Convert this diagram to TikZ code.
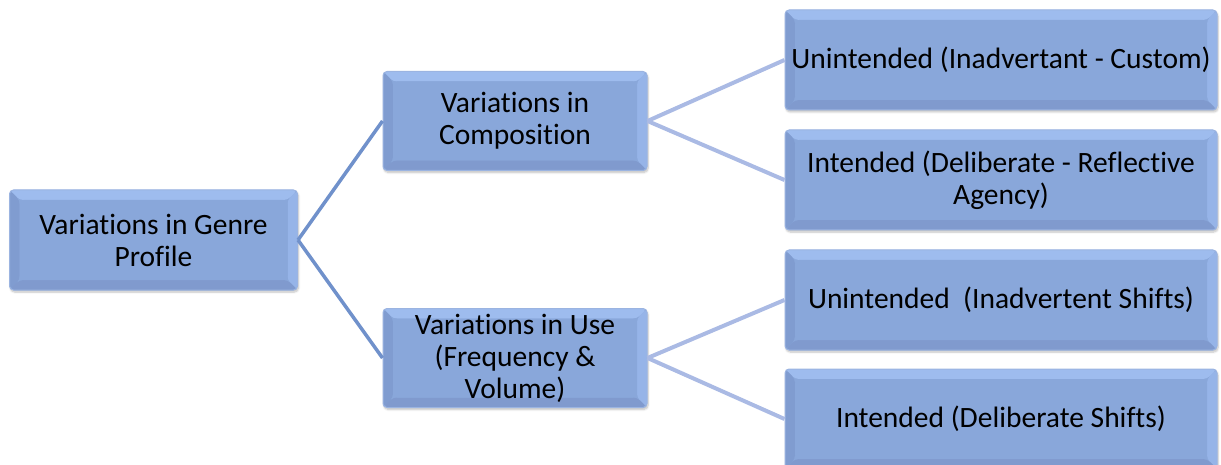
\documentclass[tikz,border=0pt]{standalone}
\usepackage{fontspec}
\setmainfont[Ligatures=NoCommon]{Carlito}
\usetikzlibrary{calc,shadows.blur}
\definecolor{face}{RGB}{137,167,218}
\definecolor{topc}{RGB}{158,188,238}
\definecolor{leftc}{RGB}{128,156,208}
\definecolor{rightc}{RGB}{150,180,232}
\definecolor{botc}{RGB}{128,154,206}
\definecolor{edgec}{RGB}{155,180,225}
\definecolor{rootline}{RGB}{112,145,203}
\definecolor{subline}{RGB}{170,186,228}
\tikzset{
  bevbox/.style={rectangle, rounded corners=4pt, fill=face, draw=edgec, line width=1pt,
    align=center, font=\fontsize{29.5}{32}\selectfont, text=black, inner sep=0pt,
    blur shadow={shadow xshift=1pt, shadow yshift=-2pt, shadow blur steps=6, shadow opacity=25},
    path picture={
      \coordinate (nw) at (path picture bounding box.north west);
      \coordinate (ne) at (path picture bounding box.north east);
      \coordinate (sw) at (path picture bounding box.south west);
      \coordinate (se) at (path picture bounding box.south east);
      \fill[topc] (nw) -- (ne) -- ($(ne)+(-10pt,-10pt)$) -- ($(nw)+(10pt,-10pt)$) -- cycle;
      \fill[leftc] (nw) -- ($(nw)+(10pt,-10pt)$) -- ($(sw)+(10pt,10pt)$) -- (sw) -- cycle;
      \fill[rightc] (ne) -- ($(ne)+(-10pt,-10pt)$) -- ($(se)+(-10pt,10pt)$) -- (se) -- cycle;
      \fill[botc] (sw) -- ($(sw)+(10pt,10pt)$) -- ($(se)+(-10pt,10pt)$) -- (se) -- cycle;
      \fill[face] ($(nw)+(10pt,-10pt)$) rectangle ($(se)+(-10pt,10pt)$);
    }},
  rootbox/.style={bevbox, minimum width=288pt, minimum height=100pt},
  midbox/.style={bevbox, minimum width=264pt, minimum height=99pt},
  leafbox/.style={bevbox, minimum width=432pt, minimum height=100pt},
  rootconn/.style={draw=rootline, line width=3.5pt},
  subconn/.style={draw=subline, line width=4pt}
}
\begin{document}
\begin{tikzpicture}[x=1pt,y=-1pt]
\useasboundingbox (0,0) rectangle (1221,465);
\node[rootbox] (root) at (153.5,240) {Variations in Genre\\Profile};
\node[midbox] (comp) at (515,121) {Variations in\\Composition};
\node[midbox] (use) at (515,358) {Variations in Use\\(Frequency \&\\Volume)};
\node[leafbox] (l1) at (1001,60) {Unintended (Inadvertant - Custom)};
\node[leafbox] (l2) at (1001,180) {Intended (Deliberate - Reflective\\Agency)};
\node[leafbox] (l3) at (1001,300) {Unintended\ \ (Inadvertent Shifts)};
\node[leafbox] (l4) at (1001,419) {Intended (Deliberate Shifts)};
\draw[rootconn] (root.east) -- (comp.west);
\draw[rootconn] (root.east) -- (use.west);
\draw[subconn] (comp.east) -- (l1.west);
\draw[subconn] (comp.east) -- (l2.west);
\draw[subconn] (use.east) -- (l3.west);
\draw[subconn] (use.east) -- (l4.west);
\end{tikzpicture}
\end{document}
